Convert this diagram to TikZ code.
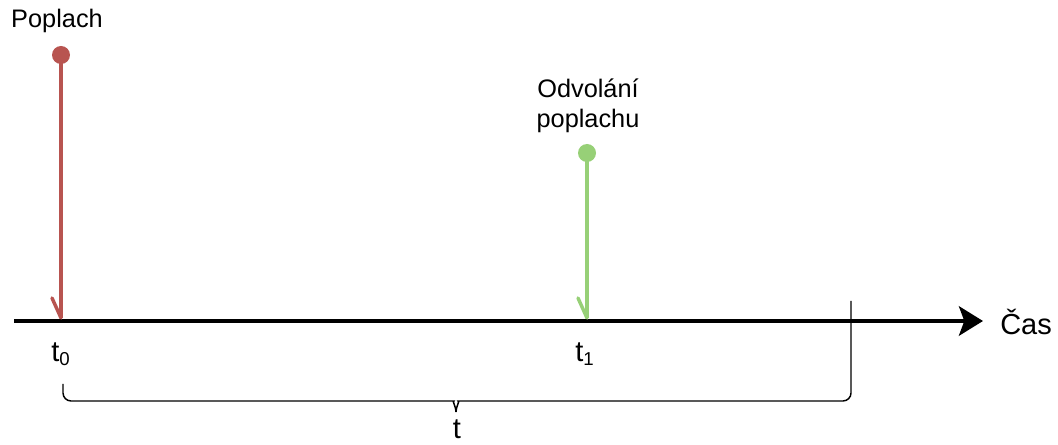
\documentclass[tikz,border=0pt]{standalone}
\usepackage{fontspec}
\setmainfont{Liberation Sans}
\usetikzlibrary{arrows.meta}
\definecolor{redc}{HTML}{B85450}
\definecolor{greenc}{HTML}{97D077}
\tikzset{
  lbl/.style={inner sep=0pt, font=\fontsize{19pt}{22.5pt}\selectfont, align=center},
  biglbl/.style={inner sep=0pt, font=\fontsize{21.75pt}{26pt}\selectfont},
  stem/.style={line width=2.6pt},
  dot/.style={circle, inner sep=0pt, minimum size=13.5pt},
  barb/.style={line width=2.6pt, line cap=round},
  axis/.style={line width=3.2pt, -{Stealth[length=18pt, width=22pt, inset=4pt]}},
  thin/.style={line width=1.1pt, rounded corners=6pt}
}
\newcommand{\sub}[1]{\raisebox{-3pt}{\fontsize{14pt}{16pt}\selectfont #1}}
\begin{document}
\begin{tikzpicture}[x=0.75pt,y=-0.75pt]
\useasboundingbox (0,0) rectangle (1058,445);
% axis
\coordinate (ax0) at (14,321);
\coordinate (ax1) at (983,321);
\draw[axis] (ax0) -- (ax1);
\node[biglbl, anchor=west] (cas) at (1000,322) {Čas};
% alarm
\node[dot, fill=redc] (p) at (61,55) {};
\coordinate (pe) at (61,318);
\coordinate (pb) at (52,298);
\draw[stem, redc] (p.center) -- (pe);
\draw[barb, redc] (pb) -- (pe);
\node[lbl] (pl) at (57,21) {Poplach};
% cancel
\node[dot, fill=greenc] (g) at (587,153) {};
\coordinate (ge) at (587,318);
\coordinate (gb) at (578,298);
\draw[stem, greenc] (g.center) -- (ge);
\draw[barb, greenc] (gb) -- (ge);
\node[lbl] (gl) at (588,106) {Odvolání\\poplachu};
% time labels
\node[biglbl, anchor=west] (t0) at (51,354) {t\sub{0}};
\node[biglbl, anchor=west] (t1) at (575,354) {t\sub{1}};
% brace
\coordinate (b0) at (63,384);
\coordinate (b1) at (851,301);
\coordinate (bm) at (456,412);
\draw[thin] (b0) -- (63,401) -- (446,401) to[out=0,in=90] (bm);
\draw[thin] (b1) -- (851,401) -- (466,401) to[out=180,in=90] (bm);
\node[biglbl] (t) at (457,429) {t};
\end{tikzpicture}
\end{document}
